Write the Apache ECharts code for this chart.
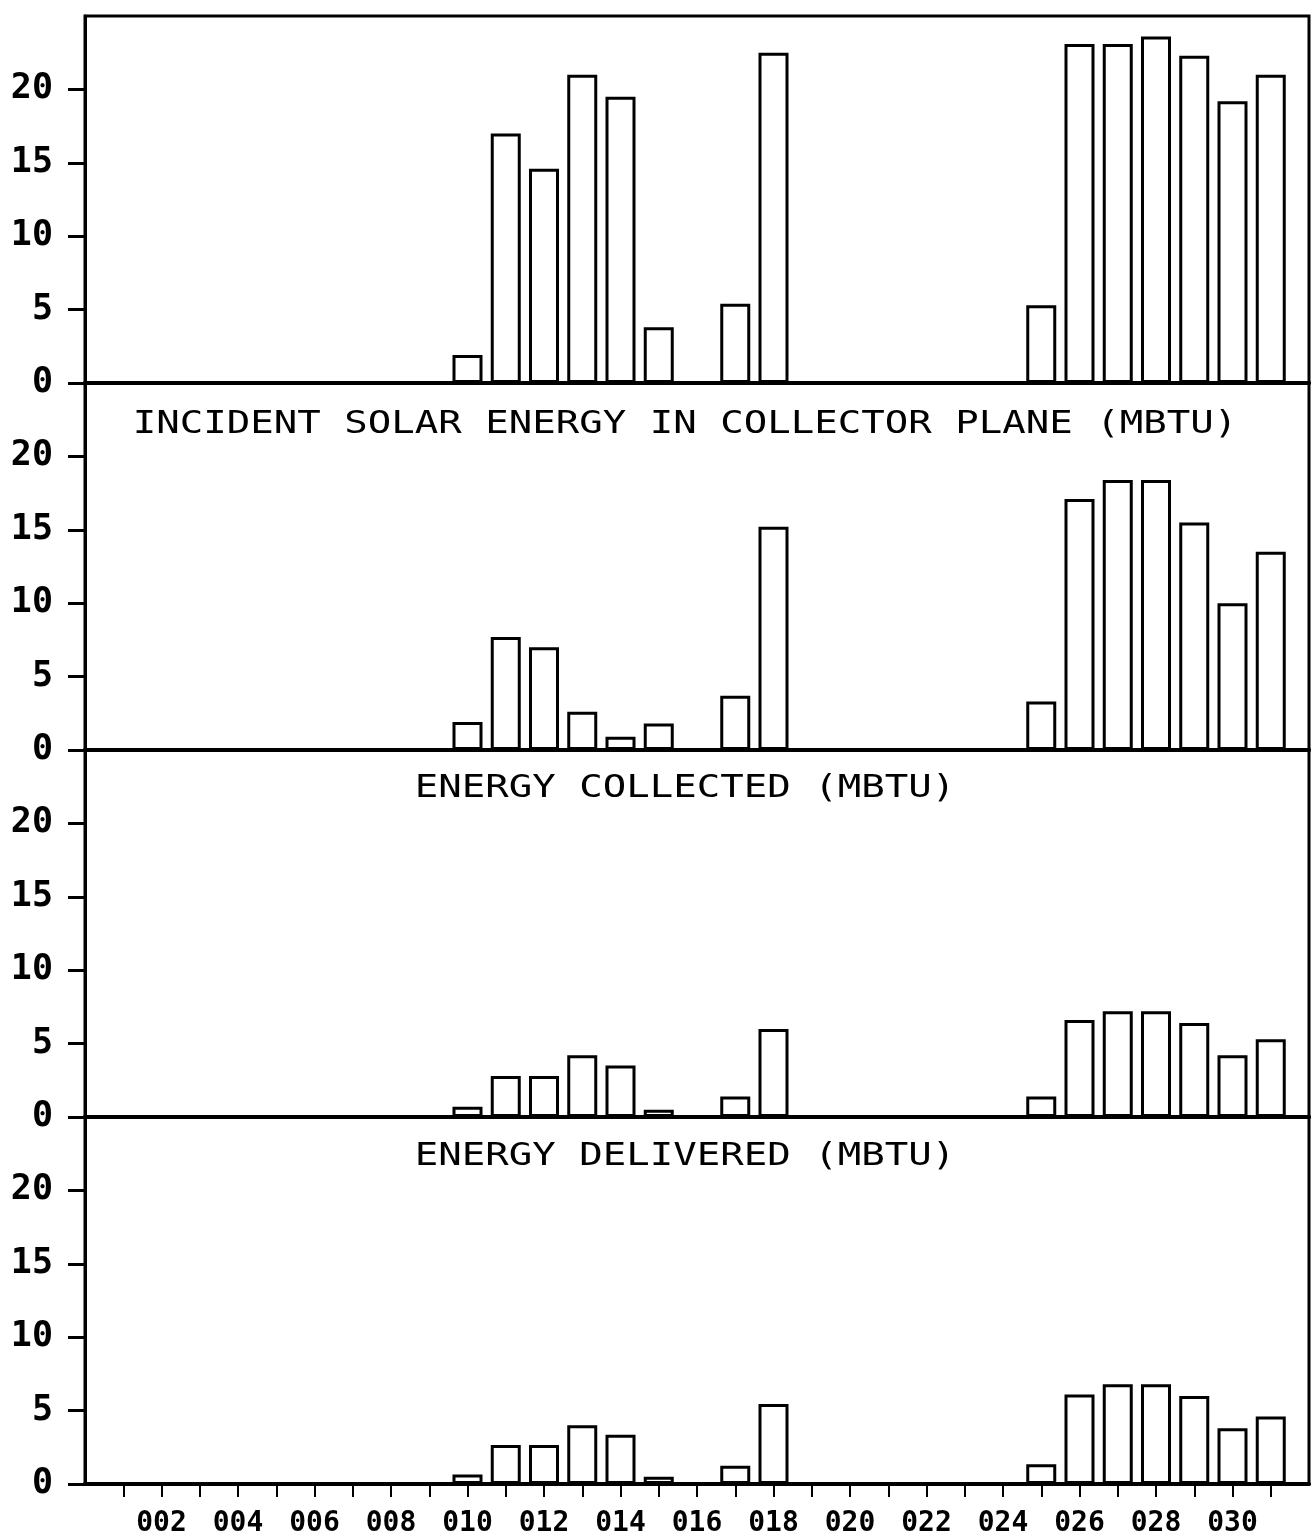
<!DOCTYPE html>
<html>
<head>
<meta charset="utf-8">
<script src="https://cdn.jsdelivr.net/npm/echarts@6/dist/echarts.min.js"></script>
<style>
  html, body { margin: 0; padding: 0; background: #fff; }
  #chart { width: 1311px; height: 1534px; }
</style>
</head>
<body>
<div id="chart"></div>
<script>
// Days of the month that have readings
const days = [10, 11, 12, 13, 14, 15, 17, 18, 25, 26, 27, 28, 29, 30, 31];

// Daily totals, MBTU
const incidentSolar   = [1.9, 17.0, 14.6, 21.0, 19.5, 3.8, 5.4, 22.5, 5.3, 23.1, 23.1, 23.6, 22.3, 19.2, 21.0];
const energyCollected = [1.9, 7.7, 7.0, 2.6, 0.9, 1.8, 3.7, 15.2, 3.3, 17.1, 18.4, 18.4, 15.5, 10.0, 13.5];
const energyDelivered = [0.7, 2.8, 2.8, 4.2, 3.5, 0.5, 1.4, 6.0, 1.4, 6.6, 7.2, 7.2, 6.4, 4.2, 5.3];
const bottomPanel     = [0.65, 2.65, 2.65, 4.0, 3.35, 0.5, 1.25, 5.45, 1.35, 6.1, 6.8, 6.8, 6.0, 3.8, 4.6];

// Day-axis ticks: one per day, labels every second day
const dayTicks = [1, 2, 3, 4, 5, 6, 7, 8, 9, 10, 11, 12, 13, 14, 15, 16, 17, 18, 19, 20, 21, 22, 23, 24, 25, 26, 27, 28, 29, 30, 31];
const dayTickValues = [2, 4, 6, 8, 10, 12, 14, 16, 18, 20, 22, 24, 26, 28, 30];
const dayTickLabels = ['002', '004', '006', '008', '010', '012', '014', '016', '018', '020', '022', '024', '026', '028', '030'];

// Value-axis ticks
const valueTicks = [0, 5, 10, 15, 20];

const panels = [incidentSolar, energyCollected, energyDelivered, bottomPanel];
const titles = [
  { text: 'INCIDENT SOLAR ENERGY IN COLLECTOR PLANE (MBTU)', y: 425 },
  { text: 'ENERGY COLLECTED (MBTU)', y: 789 },
  { text: 'ENERGY DELIVERED (MBTU)', y: 1157 }
];

const MONO = '"DejaVu Sans Mono", "Liberation Mono", monospace';
const LEFT = 85, PLOT_W = 1224, PANEL_H = 367, TOP = 16;

const grids = [], xAxes = [], yAxes = [], series = [];
panels.forEach((vals, i) => {
  const isBottom = i === panels.length - 1;
  grids.push({
    left: LEFT, width: PLOT_W, top: TOP + i * PANEL_H, height: PANEL_H,
    outerBoundsMode: 'none', containLabel: false,
    show: true, borderColor: '#000', borderWidth: 3, backgroundColor: 'transparent'
  });
  xAxes.push({
    type: 'value', gridIndex: i, min: 0, max: 32, interval: 1,
    axisLine: { show: true, onZero: false, lineStyle: { color: '#000', width: 4 } },
    splitLine: { show: false },
    axisTick: {
      show: isBottom, inside: false, length: 13,
      customValues: dayTicks,
      lineStyle: { color: '#000', width: 2 }
    },
    axisLabel: {
      show: isBottom, margin: 26, color: '#000',
      fontFamily: MONO, fontSize: 28, fontWeight: 'bold',
      customValues: dayTickValues,
      formatter: v => {
        const k = dayTickValues.indexOf(v);
        return k >= 0 ? dayTickLabels[k] : '';
      }
    }
  });
  yAxes.push({
    type: 'value', gridIndex: i, min: 0, max: 25, interval: 5,
    axisLine: { show: true, lineStyle: { color: '#000', width: 3 } },
    splitLine: { show: false },
    axisTick: {
      show: true, inside: false, length: 17,
      customValues: valueTicks,
      lineStyle: { color: '#000', width: 3 }
    },
    axisLabel: {
      margin: 32, color: '#000', fontFamily: MONO, fontSize: 35, fontWeight: 'bold',
      customValues: valueTicks,
      formatter: v => (valueTicks.indexOf(v) >= 0 ? String(v) : '')
    }
  });
  series.push({
    type: 'bar', xAxisIndex: i, yAxisIndex: i,
    data: days.map((d, k) => [d, vals[k]]),
    barWidth: 30,
    itemStyle: { color: '#fff', borderColor: '#000', borderWidth: 3 },
    silent: true
  });
});

// Panel captions, stretched horizontally to the plotter's wide lettering
const graphics = titles.map(t => ({
  type: 'text',
  x: 685, y: t.y,
  scaleX: 1.22,
  style: {
    text: t.text, fill: '#000',
    font: '32px ' + MONO,
    textAlign: 'center', textVerticalAlign: 'middle'
  }
}));

const chart = echarts.init(document.getElementById('chart'), null, { renderer: 'canvas' });
chart.setOption({
  backgroundColor: '#fff',
  animation: false,
  grid: grids,
  xAxis: xAxes,
  yAxis: yAxes,
  series: series,
  graphic: graphics
});
</script>
</body>
</html>
